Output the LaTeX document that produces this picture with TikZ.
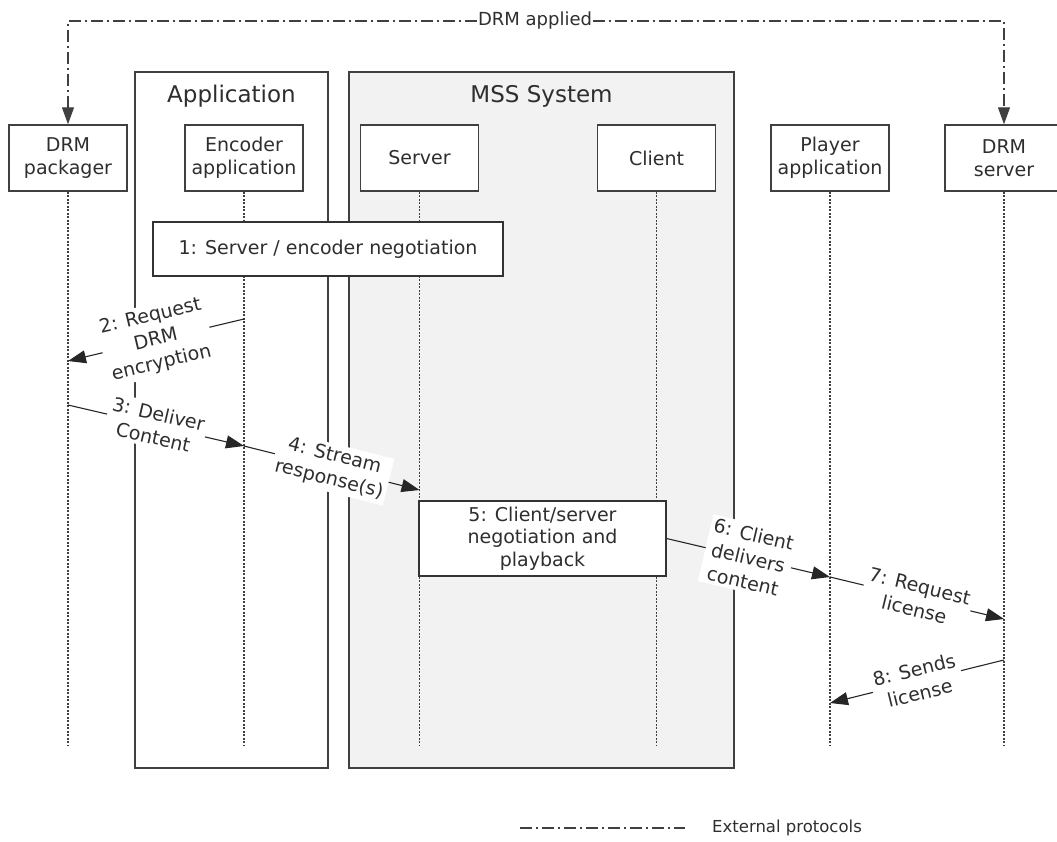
\documentclass[tikz,border=0pt]{standalone}
\usepackage{fontspec}
\setmainfont{DejaVu Sans}
\usetikzlibrary{arrows.meta}
\definecolor{mssgray}{HTML}{F2F2F2}
\definecolor{ink}{HTML}{2E2E2E}
\begin{document}
\begin{tikzpicture}[x=1pt,y=-1pt,
  every node/.style={font=\fontsize{19}{22.5}\selectfont, text=ink},
  actor/.style={draw=black!75, line width=1.4pt, fill=white, minimum width=118pt, minimum height=66pt, align=center, inner sep=0pt},
  framebox/.style={draw=black!75, line width=1.4pt, inner sep=0pt},
  title/.style={font=\fontsize{23}{27}\selectfont, anchor=center},
  stepbox/.style={draw=black!80, line width=1.2pt, fill=white, align=center, inner sep=0pt},
  lifeline/.style={draw=black!75, line width=1.2pt, dash pattern=on 2pt off 1.5pt},
  msg/.style={draw=black!85, line width=1.1pt, -{Triangle[length=18pt,width=13pt]}},
  msglabel/.style={midway, sloped, fill=white, align=center, inner sep=3pt, font=\fontsize{19}{24}\selectfont},
  extproto/.style={draw=black!75, line width=1.2pt, dash pattern=on 12pt off 4pt on 2pt off 4pt},
  exttip/.style={-{Triangle[length=17pt,width=12pt]}}
]
\useasboundingbox (0,0) rectangle (1057,842);

% frames
\node[framebox, fill=white, minimum width=193pt, minimum height=696pt] (app) at (231.5,420) {};
\node[title] (apptitle) at (231.5,96) {Application};
\node[framebox, fill=mssgray, minimum width=385pt, minimum height=696pt] (mss) at (541.5,420) {};
\node[title] (msstitle) at (541.5,96) {MSS System};

% actors
\node[actor] (pk)  at (68,158)   {DRM\\packager};
\node[actor] (enc) at (244,158)  {Encoder\\application};
\node[actor] (srv) at (419.5,158) {Server};
\node[actor] (cli) at (656.5,158) {Client};
\node[actor] (ply) at (830,158)  {Player\\application};
\node[actor] (drs) at (1004,158) {DRM\\server};

% lifeline ends
\coordinate (pkE)  at (68,746);
\coordinate (encE) at (244,746);
\coordinate (srvE) at (419.5,746);
\coordinate (cliE) at (656.5,746);
\coordinate (plyE) at (830,746);
\coordinate (drsE) at (1004,746);
\draw[lifeline] (pk.south) -- (pkE);
\draw[lifeline] (enc.south) -- (encE);
\draw[lifeline] (srv.south) -- (srvE);
\draw[lifeline] (cli.south) -- (cliE);
\draw[lifeline] (ply.south) -- (plyE);
\draw[lifeline] (drs.south) -- (drsE);

% step boxes
\node[stepbox, minimum width=350pt, minimum height=54pt] (s1) at (328,249) {1: Server / encoder negotiation};
\node[stepbox, minimum width=247pt, minimum height=75pt] (s5) at (542.5,538.5) {5: Client/server\\negotiation and\\playback};

% message anchor points
\coordinate (m2a) at (244,319);
\coordinate (m2b) at (68,361);
\coordinate (m3a) at (68,405);
\coordinate (m3b) at (244,446);
\coordinate (m4b) at (419.5,490);
\coordinate (m6b) at (830,577);
\coordinate (m7b) at (1004,619);
\coordinate (m8a) at (1004,660);
\coordinate (m8b) at (830,703);

\draw[msg] (m2a) -- node[msglabel] {2: Request\\DRM\\encryption} (m2b);
\draw[msg] (m3a) -- node[msglabel] {3: Deliver\\Content} (m3b);
\draw[msg] (m3b) -- node[msglabel] {4: Stream\\response(s)} (m4b);
\draw[msg] (s5.east) -- node[msglabel] {6: Client\\delivers\\content} (m6b);
\draw[msg] (m6b) -- node[msglabel] {7: Request\\license} (m7b);
\draw[msg] (m8a) -- node[msglabel] {8: Sends\\license} (m8b);

% DRM applied
\node[inner sep=0.5pt, font=\fontsize{18}{21}\selectfont] (drm) at (535,21) {DRM applied};
\draw[extproto, exttip] (drm.west) -| (pk.north);
\draw[extproto, exttip] (drm.east) -| (drs.north);

% legend
\coordinate (lg1) at (520,828);
\coordinate (lg2) at (685,828);
\draw[extproto] (lg1) -- (lg2);
\node[anchor=west, inner sep=0pt, font=\fontsize{16.5}{20}\selectfont] (lgt) at (712,828) {External protocols};
\end{tikzpicture}
\end{document}
